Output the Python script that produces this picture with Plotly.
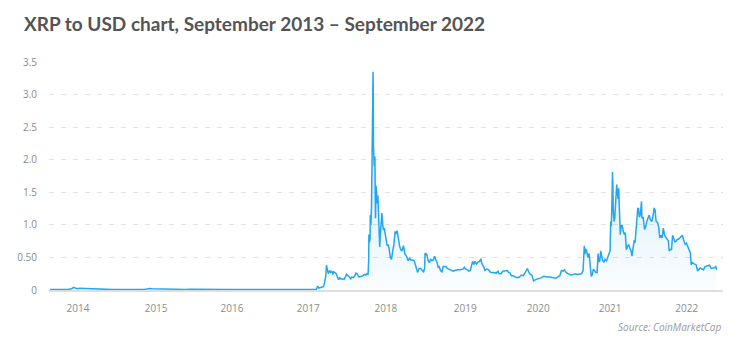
import plotly.graph_objects as go

# ---- data ----
dates = [
    "2013-08-04", "2013-09-01", "2013-10-01", "2013-11-01", "2013-11-20", "2013-12-01", "2013-12-08",
    "2013-12-18", "2013-12-28", "2014-01-10", "2014-01-25", "2014-02-15", "2014-03-10", "2014-04-10",
    "2014-05-15", "2014-06-15", "2014-07-15", "2014-08-15", "2014-09-15", "2014-10-15", "2014-11-15",
    "2014-12-01", "2014-12-15", "2014-12-28", "2015-01-15", "2015-02-10", "2015-03-10", "2015-04-10",
    "2015-05-10", "2015-06-10", "2015-07-05", "2015-08-01", "2015-09-01", "2015-10-01", "2015-11-01",
    "2015-12-01", "2016-01-01", "2016-02-01", "2016-03-01", "2016-04-01", "2016-05-01", "2016-06-01",
    "2016-07-01", "2016-08-01", "2016-09-01", "2016-10-01", "2016-11-01", "2016-12-01", "2017-01-01",
    "2017-02-01", "2017-03-01", "2017-03-20", "2017-03-25", "2017-03-30", "2017-04-02", "2017-04-08",
    "2017-04-20", "2017-05-01", "2017-05-05", "2017-05-12", "2017-05-16", "2017-05-20", "2017-05-25",
    "2017-06-01", "2017-06-06", "2017-06-12", "2017-06-17", "2017-06-22", "2017-06-28", "2017-07-04",
    "2017-07-10", "2017-07-16", "2017-07-22", "2017-07-28", "2017-08-05", "2017-08-12", "2017-08-19",
    "2017-08-24", "2017-08-31", "2017-09-05", "2017-09-14", "2017-09-20", "2017-09-27", "2017-10-04",
    "2017-10-10", "2017-10-16", "2017-10-24", "2017-11-01", "2017-11-08", "2017-11-15", "2017-11-22",
    "2017-11-29", "2017-12-04", "2017-12-10", "2017-12-13", "2017-12-14", "2017-12-17", "2017-12-20",
    "2017-12-21", "2017-12-24", "2017-12-27", "2017-12-30", "2018-01-01", "2018-01-03", "2018-01-04",
    "2018-01-05", "2018-01-06", "2018-01-08", "2018-01-10", "2018-01-13", "2018-01-16", "2018-01-19",
    "2018-01-22", "2018-01-25", "2018-01-28", "2018-01-31", "2018-02-03", "2018-02-06", "2018-02-09",
    "2018-02-13", "2018-02-17", "2018-02-21", "2018-02-25", "2018-03-01", "2018-03-06", "2018-03-10",
    "2018-03-15", "2018-03-20", "2018-03-25", "2018-03-31", "2018-04-06", "2018-04-12", "2018-04-18",
    "2018-04-24", "2018-04-28", "2018-05-04", "2018-05-10", "2018-05-16", "2018-05-22", "2018-05-28",
    "2018-06-05", "2018-06-12", "2018-06-20", "2018-06-28", "2018-07-05", "2018-07-12", "2018-07-20",
    "2018-07-28", "2018-08-04", "2018-08-10", "2018-08-14", "2018-08-22", "2018-08-30", "2018-09-07",
    "2018-09-13", "2018-09-18", "2018-09-21", "2018-09-25", "2018-09-29", "2018-10-05", "2018-10-12",
    "2018-10-18", "2018-10-25", "2018-11-01", "2018-11-07", "2018-11-14", "2018-11-20", "2018-11-25",
    "2018-11-30", "2018-12-07", "2018-12-14", "2018-12-20", "2018-12-27", "2019-01-03", "2019-01-10",
    "2019-01-17", "2019-01-25", "2019-02-01", "2019-02-08", "2019-02-15", "2019-02-22", "2019-03-01",
    "2019-03-15", "2019-03-29", "2019-04-05", "2019-04-12", "2019-04-20", "2019-04-27", "2019-05-05",
    "2019-05-12", "2019-05-16", "2019-05-22", "2019-05-28", "2019-06-05", "2019-06-12", "2019-06-20",
    "2019-06-26", "2019-07-02", "2019-07-10", "2019-07-17", "2019-07-24", "2019-08-01", "2019-08-08",
    "2019-08-15", "2019-08-25", "2019-09-05", "2019-09-12", "2019-09-20", "2019-09-25", "2019-10-05",
    "2019-10-15", "2019-10-25", "2019-11-05", "2019-11-12", "2019-11-20", "2019-11-25", "2019-12-05",
    "2019-12-15", "2019-12-25", "2020-01-05", "2020-01-15", "2020-01-25", "2020-02-05", "2020-02-14",
    "2020-02-20", "2020-02-28", "2020-03-07", "2020-03-12", "2020-03-16", "2020-03-25", "2020-04-05",
    "2020-04-15", "2020-04-25", "2020-05-05", "2020-05-15", "2020-05-25", "2020-06-05", "2020-06-15",
    "2020-06-25", "2020-07-05", "2020-07-15", "2020-07-25", "2020-08-02", "2020-08-10", "2020-08-17",
    "2020-08-25", "2020-09-03", "2020-09-10", "2020-09-20", "2020-10-01", "2020-10-10", "2020-10-20",
    "2020-11-01", "2020-11-10", "2020-11-18", "2020-11-22", "2020-11-24", "2020-11-27", "2020-12-01",
    "2020-12-06", "2020-12-12", "2020-12-18", "2020-12-22", "2020-12-26", "2020-12-29", "2021-01-03",
    "2021-01-08", "2021-01-14", "2021-01-20", "2021-01-27", "2021-02-01", "2021-02-05", "2021-02-10",
    "2021-02-14", "2021-02-20", "2021-02-24", "2021-03-02", "2021-03-08", "2021-03-15", "2021-03-22",
    "2021-03-28", "2021-04-02", "2021-04-05", "2021-04-08", "2021-04-11", "2021-04-14", "2021-04-16",
    "2021-04-18", "2021-04-22", "2021-04-25", "2021-04-29", "2021-05-02", "2021-05-05", "2021-05-08",
    "2021-05-12", "2021-05-15", "2021-05-19", "2021-05-23", "2021-05-27", "2021-06-01", "2021-06-07",
    "2021-06-12", "2021-06-17", "2021-06-22", "2021-06-27", "2021-07-03", "2021-07-10", "2021-07-16",
    "2021-07-20", "2021-07-26", "2021-07-31", "2021-08-05", "2021-08-09", "2021-08-13", "2021-08-18",
    "2021-08-22", "2021-08-26", "2021-08-31", "2021-09-06", "2021-09-08", "2021-09-14", "2021-09-21",
    "2021-09-26", "2021-10-02", "2021-10-08", "2021-10-14", "2021-10-20", "2021-10-27", "2021-11-03",
    "2021-11-08", "2021-11-13", "2021-11-18", "2021-11-25", "2021-12-01", "2021-12-06", "2021-12-12",
    "2021-12-18", "2021-12-24", "2021-12-30", "2022-01-05", "2022-01-12", "2022-01-18", "2022-01-22",
    "2022-01-28", "2022-02-03", "2022-02-08", "2022-02-14", "2022-02-20", "2022-02-26", "2022-03-04",
    "2022-03-10", "2022-03-16", "2022-03-23", "2022-03-29", "2022-04-05", "2022-04-12", "2022-04-18",
    "2022-04-25", "2022-05-02", "2022-05-08", "2022-05-12", "2022-05-18", "2022-05-26", "2022-06-05",
    "2022-06-13", "2022-06-18", "2022-06-26", "2022-07-05", "2022-07-13", "2022-07-20", "2022-07-28",
    "2022-08-05", "2022-08-12", "2022-08-20", "2022-08-28", "2022-09-05", "2022-09-12", "2022-09-16",
]
prices = [
    0.006, 0.005, 0.005, 0.009, 0.02, 0.04, 0.03,
    0.02, 0.026, 0.024, 0.02, 0.016, 0.014, 0.01,
    0.008, 0.006, 0.006, 0.005, 0.005, 0.006, 0.008,
    0.015, 0.024, 0.02, 0.018, 0.015, 0.011, 0.009,
    0.007, 0.009, 0.01, 0.008, 0.007, 0.005, 0.005,
    0.006, 0.006, 0.008, 0.007, 0.007, 0.006, 0.006,
    0.006, 0.006, 0.006, 0.007, 0.008, 0.007, 0.006,
    0.007, 0.008, 0.009, 0.01, 0.03, 0.06, 0.03,
    0.035, 0.05, 0.09, 0.2, 0.38, 0.3, 0.25,
    0.3, 0.27, 0.29, 0.24, 0.28, 0.26, 0.25,
    0.2, 0.16, 0.19, 0.17, 0.17, 0.16, 0.2,
    0.24, 0.22, 0.21, 0.17, 0.2, 0.19, 0.21,
    0.26, 0.25, 0.2, 0.2, 0.21, 0.22, 0.24,
    0.23, 0.25, 0.24, 0.46, 0.85, 0.73, 0.8,
    1.15, 1.0, 1.28, 1.9, 2.3, 2.8, 3.35,
    3.0, 2.2, 2.1, 1.9, 2.05, 1.1, 1.6,
    1.5, 1.33, 1.45, 1.1, 0.9, 0.66, 0.85,
    1.0, 1.18, 1.0, 0.92, 0.95, 0.85, 0.75,
    0.68, 0.7, 0.64, 0.5, 0.47, 0.6, 0.7,
    0.9, 0.86, 0.91, 0.76, 0.68, 0.62, 0.6,
    0.68, 0.55, 0.52, 0.45, 0.49, 0.46, 0.46,
    0.45, 0.38, 0.3, 0.27, 0.33, 0.33, 0.3,
    0.27, 0.33, 0.57, 0.53, 0.56, 0.46, 0.42,
    0.47, 0.45, 0.46, 0.52, 0.46, 0.42, 0.35,
    0.36, 0.3, 0.28, 0.36, 0.36, 0.36, 0.33,
    0.32, 0.31, 0.29, 0.29, 0.3, 0.31, 0.31,
    0.31, 0.32, 0.35, 0.32, 0.31, 0.29, 0.3,
    0.38, 0.44, 0.39, 0.44, 0.4, 0.43, 0.44,
    0.48, 0.4, 0.36, 0.3, 0.32, 0.32, 0.3,
    0.27, 0.27, 0.26, 0.26, 0.29, 0.25, 0.25,
    0.29, 0.29, 0.3, 0.27, 0.26, 0.22, 0.22,
    0.2, 0.19, 0.2, 0.23, 0.22, 0.27, 0.33,
    0.28, 0.24, 0.23, 0.15, 0.14, 0.16, 0.17,
    0.19, 0.19, 0.21, 0.2, 0.2, 0.2, 0.19,
    0.18, 0.18, 0.2, 0.22, 0.3, 0.29, 0.31,
    0.27, 0.25, 0.24, 0.23, 0.24, 0.25, 0.24,
    0.24, 0.25, 0.3, 0.46, 0.68, 0.55, 0.63,
    0.6, 0.5, 0.56, 0.43, 0.28, 0.21, 0.23,
    0.32, 0.3, 0.27, 0.27, 0.56, 0.43, 0.45,
    0.6, 0.52, 0.45, 0.43, 0.47, 0.45, 0.53,
    0.56, 0.6, 1.05, 0.98, 1.3, 1.81, 1.6,
    1.2, 1.05, 1.1, 1.38, 1.5, 1.62, 1.5,
    1.4, 1.56, 1.0, 0.85, 0.98, 1.0, 0.9,
    0.85, 0.88, 0.62, 0.66, 0.7, 0.64, 0.6,
    0.52, 0.62, 0.75, 0.74, 0.95, 1.15, 1.25,
    1.25, 1.12, 1.15, 1.36, 1.1, 1.12, 0.93,
    0.96, 1.05, 1.12, 1.15, 1.08, 1.05, 1.15,
    1.26, 1.22, 1.05, 1.04, 0.96, 0.8, 0.84,
    0.8, 0.95, 0.84, 0.8, 0.78, 0.76, 0.6,
    0.62, 0.62, 0.84, 0.8, 0.74, 0.75, 0.78,
    0.78, 0.8, 0.83, 0.84, 0.76, 0.7, 0.72,
    0.66, 0.61, 0.57, 0.39, 0.42, 0.4, 0.39,
    0.3, 0.31, 0.34, 0.32, 0.31, 0.36, 0.37,
    0.37, 0.38, 0.33, 0.33, 0.34, 0.36, 0.31,
]

y_tick_vals = [0, 0.5, 1.0, 1.5, 2.0, 2.5, 3.0, 3.5]
y_tick_text = ["0", "0.50", "1.0", "1.5", "2.0", "2.5", "3.0", "3.5"]
x_tick_dates = ["2013-12-22", "2015-01-16", "2016-01-30", "2017-02-14", "2018-03-09",
                "2019-04-09", "2020-04-08", "2021-04-02", "2022-04-20"]
x_tick_text = ["2014", "2015", "2016", "2017", "2018", "2019", "2020", "2021", "2022"]

title_text = "XRP to USD chart, September 2013 – September 2022"
source_text = "Source: CoinMarketCap"

LINE = "#22a7ef"

fig = go.Figure()
fig.add_trace(go.Scatter(
    x=dates, y=prices, mode="lines",
    line=dict(color=LINE, width=1.5),
    fill="tozeroy",
    fillgradient=dict(type="vertical", start=0, stop=1.6,
                      colorscale=[[0, "rgba(34,167,239,0.02)"], [1, "rgba(34,167,239,0.15)"]]),
    hoverinfo="skip",
))

fig.update_layout(
    width=750, height=351,
    margin=dict(l=49, r=27, t=62, b=61),
    paper_bgcolor="white", plot_bgcolor="white",
    showlegend=False,
    title=dict(text=f"<b>{title_text}</b>", x=24/750, xanchor="left", xref="container",
               y=1 - 24/351, yanchor="middle", yref="container",
               font=dict(family="Lato", size=19, color="#545454")),
    font=dict(family="Open Sans", color="#8c8c8c", size=10),
    xaxis=dict(type="date", range=["2013-07-30", "2022-10-18"],
               tickvals=x_tick_dates, ticktext=x_tick_text,
               showgrid=False, zeroline=False,
               showline=True, linecolor="#dedede", linewidth=2,
               ticks="outside", ticklen=8, tickcolor="rgba(0,0,0,0)",
               tickfont=dict(size=10, color="#8c8c8c")),
    yaxis=dict(range=[0, 3.5], tickvals=y_tick_vals, ticktext=y_tick_text,
               showgrid=True, gridcolor="#e3e3e3", gridwidth=1, griddash="5px,7px",
               zeroline=False, showline=False,
               ticks="outside", ticklen=9, tickcolor="rgba(0,0,0,0)",
               tickfont=dict(size=10, color="#8c8c8c")),
    annotations=[dict(text=f"<i>{source_text}</i>", xref="paper", yref="paper",
                      x=1, y=(290 - 327) / 228, xanchor="right", yanchor="middle",
                      showarrow=False, font=dict(size=10, color="#9a9a9a", family="Open Sans"))],
)

fig.write_html("out.html")
